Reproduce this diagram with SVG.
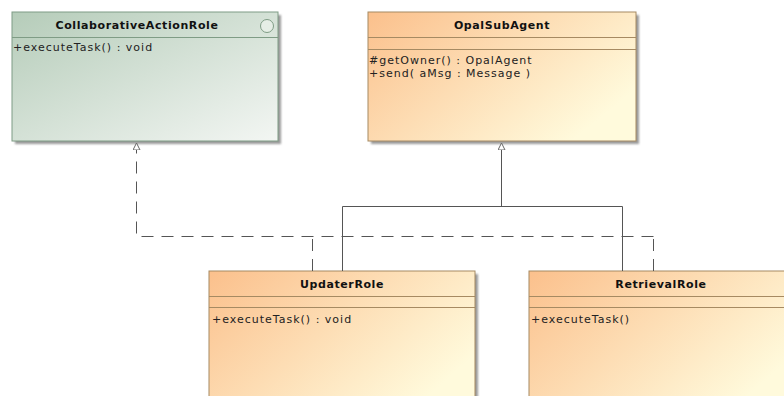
<svg xmlns="http://www.w3.org/2000/svg" width="784" height="396" viewBox="0 0 784 396">
  <defs>
    <linearGradient id="gradGreen" x1="0" y1="0" x2="1" y2="1">
      <stop offset="0" stop-color="#b5ccb9"/>
      <stop offset="1" stop-color="#f3f6f3"/>
    </linearGradient>
    <linearGradient id="gradOrange" x1="0" y1="0" x2="1" y2="0.6">
      <stop offset="0" stop-color="#fbc08c"/>
      <stop offset="1" stop-color="#fffadc"/>
    </linearGradient>
    <filter id="soft" x="-5%" y="-5%" width="110%" height="110%">
      <feGaussianBlur stdDeviation="0.8"/>
    </filter>
    <marker id="hollowTri" viewBox="0 0 10 8" refX="0" refY="4" markerWidth="10" markerHeight="8" markerUnits="userSpaceOnUse" orient="auto">
      <path d="M0,0.5 L0,7.5 L7,4 Z" fill="#ffffff" stroke="#666666" stroke-width="1"/>
    </marker>
  </defs>
  <style>
    .shadow { fill: #9a9a9a; filter: url(#soft); }
    .boxG { fill: url(#gradGreen); stroke: #7f9c85; stroke-width: 1; }
    .boxO { fill: url(#gradOrange); stroke: #a68a62; stroke-width: 1; }
    .sepG { stroke: #7f9c85; stroke-width: 1; }
    .sepO { stroke: #a68a62; stroke-width: 1; }
    .title { font-family: "DejaVu Sans", "Liberation Sans", sans-serif; font-size: 11px; font-weight: bold; letter-spacing: 0.6px; fill: #111111; text-anchor: middle; }
    .op { font-family: "DejaVu Sans", "Liberation Sans", sans-serif; font-size: 11px; letter-spacing: 1px; fill: #222222; }
    .solid { fill: none; stroke: #555555; stroke-width: 1; }
    .dashed { fill: none; stroke: #555555; stroke-width: 1; stroke-dasharray: 12 8; }
  </style>

  <rect width="784" height="396" fill="#ffffff"/>

  <!-- interface CollaborativeActionRole -->
  <g id="CollaborativeActionRole">
    <rect class="shadow" x="15" y="15" width="266" height="129"/>
    <rect class="boxG" x="12" y="12" width="266" height="129"/>
    <line class="sepG" x1="12" y1="37.5" x2="278" y2="37.5"/>
    <circle cx="267" cy="26" r="6.5" fill="#e6eee6" stroke="#7f9c85" stroke-width="1"/>
    <text class="title" x="137" y="29">CollaborativeActionRole</text>
    <text class="op" x="13" y="51">+executeTask() : void</text>
  </g>

  <!-- class OpalSubAgent -->
  <g id="OpalSubAgent">
    <rect class="shadow" x="371" y="15" width="268" height="129"/>
    <rect class="boxO" x="368" y="12" width="268" height="129"/>
    <line class="sepO" x1="368" y1="37.5" x2="636" y2="37.5"/>
    <line class="sepO" x1="368" y1="49.5" x2="636" y2="49.5"/>
    <text class="title" x="502" y="29">OpalSubAgent</text>
    <text class="op" x="369" y="64">#getOwner() : OpalAgent</text>
    <text class="op" x="369" y="77">+send( aMsg : Message )</text>
  </g>

  <!-- class UpdaterRole -->
  <g id="UpdaterRole">
    <rect class="shadow" x="212" y="274" width="266" height="140"/>
    <rect class="boxO" x="209" y="271" width="266" height="140"/>
    <line class="sepO" x1="209" y1="296.5" x2="475" y2="296.5"/>
    <line class="sepO" x1="209" y1="307.5" x2="475" y2="307.5"/>
    <text class="title" x="342" y="288">UpdaterRole</text>
    <text class="op" x="212" y="323">+executeTask() : void</text>
  </g>

  <!-- class RetrievalRole -->
  <g id="RetrievalRole">
    <rect class="shadow" x="532" y="274" width="266" height="140"/>
    <rect class="boxO" x="529" y="271" width="266" height="140"/>
    <line class="sepO" x1="529" y1="296.5" x2="795" y2="296.5"/>
    <line class="sepO" x1="529" y1="307.5" x2="795" y2="307.5"/>
    <text class="title" x="661" y="288">RetrievalRole</text>
    <text class="op" x="531" y="323">+executeTask()</text>
  </g>

  <!-- generalization and realization connectors -->
  <g id="connectors">
    <path class="solid" d="M342.5,271 V206.5 H622.5 V271"/>
    <path class="solid" d="M501.5,206.5 V150" marker-end="url(#hollowTri)"/>
    <path class="dashed" d="M312.5,271 V236.5"/>
    <path class="dashed" d="M653.5,271 V236.5"/>
    <path class="dashed" d="M653.5,236.5 H136.5 V150" marker-end="url(#hollowTri)"/>
  </g>
</svg>
